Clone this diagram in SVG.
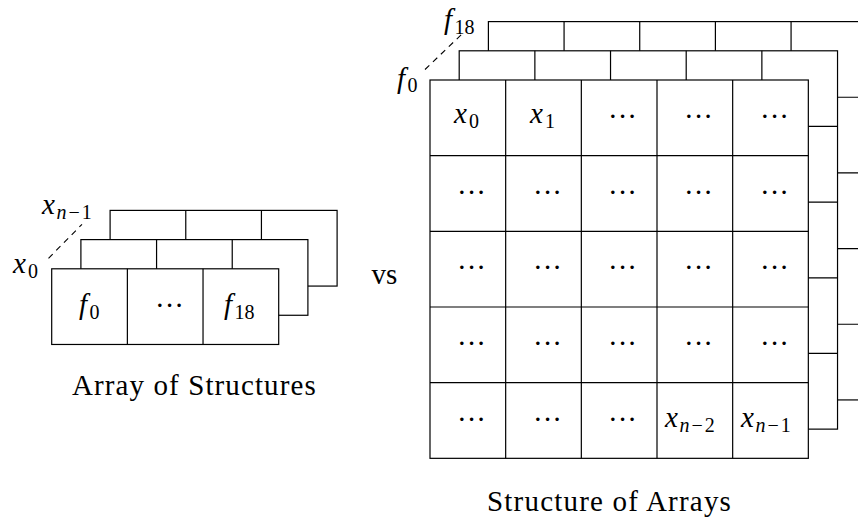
<svg xmlns="http://www.w3.org/2000/svg" width="858" height="517" viewBox="0 0 858 517">
<rect width="858" height="517" fill="#fff"/>
<g id="aos-layer3" fill="#fff" stroke="#000" stroke-width="1.2">
<rect x="110.1" y="210.4" width="227" height="75.67"/>
<path fill="none" d="M185.77 210.4V286.07M261.43 210.4V286.07"/>
</g>
<g id="aos-layer2" fill="#fff" stroke="#000" stroke-width="1.2">
<rect x="80.9" y="239.6" width="227" height="75.67"/>
<path fill="none" d="M156.57 239.6V315.27M232.23 239.6V315.27"/>
</g>
<g id="aos-layer1">
<rect x="51.7" y="268.8" width="227" height="75.67" fill="#fff" stroke="#000" stroke-width="1.2"/>
<path fill="none" stroke="#000" stroke-width="1.2" d="M127.37 268.8V344.47M203.03 268.8V344.47"/>
<text font-family="Liberation Serif, serif" font-size="29" font-style="italic" x="79" y="314">f<tspan font-size="20" font-style="normal" dx="2.5" dy="4.5">0</tspan></text>
<text font-family="Liberation Serif, serif" font-size="29" x="155" y="315">···</text>
<text font-family="Liberation Serif, serif" font-size="29" font-style="italic" x="224" y="314">f<tspan font-size="20" font-style="normal" dx="2.5" dy="4.5">18</tspan></text>
</g>
<g id="aos-label-x0">
<text font-family="Liberation Serif, serif" font-size="29" font-style="italic" x="13" y="273">x<tspan font-size="20" font-style="normal" dx="2" dy="4.5">0</tspan></text>
</g>
<g id="aos-label-xn1">
<text font-family="Liberation Serif, serif" font-size="29" font-style="italic" x="42" y="214">x<tspan font-size="20" dx="1.5" dy="4.5">n</tspan><tspan font-size="20" font-style="normal" dx="2">−</tspan><tspan font-size="20" font-style="normal" dx="2">1</tspan></text>
</g>
<g id="aos-title">
<text font-family="Liberation Serif, serif" font-size="29" letter-spacing="1.1" x="72" y="395">Array of Structures</text>
</g>
<g id="vs">
<text font-family="Liberation Serif, serif" font-size="29" x="371.5" y="284">vs</text>
</g>
<g id="soa-layer3" fill="#fff" stroke="#000" stroke-width="1.2">
<rect x="488.4" y="21.6" width="378.33" height="378.33"/>
<path fill="none" d="M564.07 21.6V399.93M639.73 21.6V399.93M715.4 21.6V399.93M791.07 21.6V399.93M488.4 97.27H866.73M488.4 172.93H866.73M488.4 248.6H866.73M488.4 324.27H866.73"/>
</g>
<g id="soa-layer2" fill="#fff" stroke="#000" stroke-width="1.2">
<rect x="459.2" y="50.8" width="378.33" height="378.33"/>
<path fill="none" d="M534.87 50.8V429.13M610.53 50.8V429.13M686.2 50.8V429.13M761.87 50.8V429.13M459.2 126.47H837.53M459.2 202.13H837.53M459.2 277.8H837.53M459.2 353.47H837.53"/>
</g>
<g id="soa-layer1">
<rect x="430" y="80" width="378.33" height="378.33" fill="#fff" stroke="#000" stroke-width="1.2"/>
<path fill="none" stroke="#000" stroke-width="1.2" d="M505.67 80V458.33M581.33 80V458.33M657 80V458.33M732.67 80V458.33M430 155.67H808.33M430 231.33H808.33M430 307H808.33M430 382.67H808.33"/>
<text font-family="Liberation Serif, serif" font-size="29" font-style="italic" x="454" y="123">x<tspan font-size="20" font-style="normal" dx="2" dy="4.5">0</tspan></text>
<text font-family="Liberation Serif, serif" font-size="29" font-style="italic" x="530" y="123">x<tspan font-size="20" font-style="normal" dx="2" dy="4.5">1</tspan></text>
<g id="soa-dots" font-family="Liberation Serif, serif" font-size="29">
<text font-family="Liberation Serif, serif" x="608" y="126">···</text>
<text font-family="Liberation Serif, serif" x="684" y="126">···</text>
<text font-family="Liberation Serif, serif" x="760" y="126">···</text>
<text font-family="Liberation Serif, serif" x="457" y="201.5">···</text>
<text font-family="Liberation Serif, serif" x="533" y="201.5">···</text>
<text font-family="Liberation Serif, serif" x="608" y="201.5">···</text>
<text font-family="Liberation Serif, serif" x="684" y="201.5">···</text>
<text font-family="Liberation Serif, serif" x="760" y="201.5">···</text>
<text font-family="Liberation Serif, serif" x="457" y="277">···</text>
<text font-family="Liberation Serif, serif" x="533" y="277">···</text>
<text font-family="Liberation Serif, serif" x="608" y="277">···</text>
<text font-family="Liberation Serif, serif" x="684" y="277">···</text>
<text font-family="Liberation Serif, serif" x="760" y="277">···</text>
<text font-family="Liberation Serif, serif" x="457" y="353">···</text>
<text font-family="Liberation Serif, serif" x="533" y="353">···</text>
<text font-family="Liberation Serif, serif" x="608" y="353">···</text>
<text font-family="Liberation Serif, serif" x="684" y="353">···</text>
<text font-family="Liberation Serif, serif" x="760" y="353">···</text>
<text font-family="Liberation Serif, serif" x="457" y="428.5">···</text>
<text font-family="Liberation Serif, serif" x="533" y="428.5">···</text>
<text font-family="Liberation Serif, serif" x="608" y="428.5">···</text>
</g>
<text font-family="Liberation Serif, serif" font-size="29" font-style="italic" x="665" y="427">x<tspan font-size="20" dx="1.5" dy="4.5">n</tspan><tspan font-size="20" font-style="normal" dx="2">−</tspan><tspan font-size="20" font-style="normal" dx="2">2</tspan></text>
<text font-family="Liberation Serif, serif" font-size="29" font-style="italic" x="741" y="427">x<tspan font-size="20" dx="1.5" dy="4.5">n</tspan><tspan font-size="20" font-style="normal" dx="2">−</tspan><tspan font-size="20" font-style="normal" dx="2">1</tspan></text>
</g>
<g id="soa-label-f0">
<text font-family="Liberation Serif, serif" font-size="29" font-style="italic" x="397" y="88">f<tspan font-size="20" font-style="normal" dx="2.5" dy="4">0</tspan></text>
</g>
<g id="soa-label-f18">
<text font-family="Liberation Serif, serif" font-size="29" font-style="italic" x="444" y="29">f<tspan font-size="20" font-style="normal" dx="2.5" dy="4.5">18</tspan></text>
</g>
<g id="soa-title">
<text font-family="Liberation Serif, serif" font-size="29" letter-spacing="1.2" x="487" y="511">Structure of Arrays</text>
</g>
<g id="connectors" fill="none" stroke="#000" stroke-width="1.1" stroke-dasharray="6 5">
<path d="M48.5 258.3L82 224.3"/>
<path d="M425 69.5L462 34"/>
</g>
</svg>
